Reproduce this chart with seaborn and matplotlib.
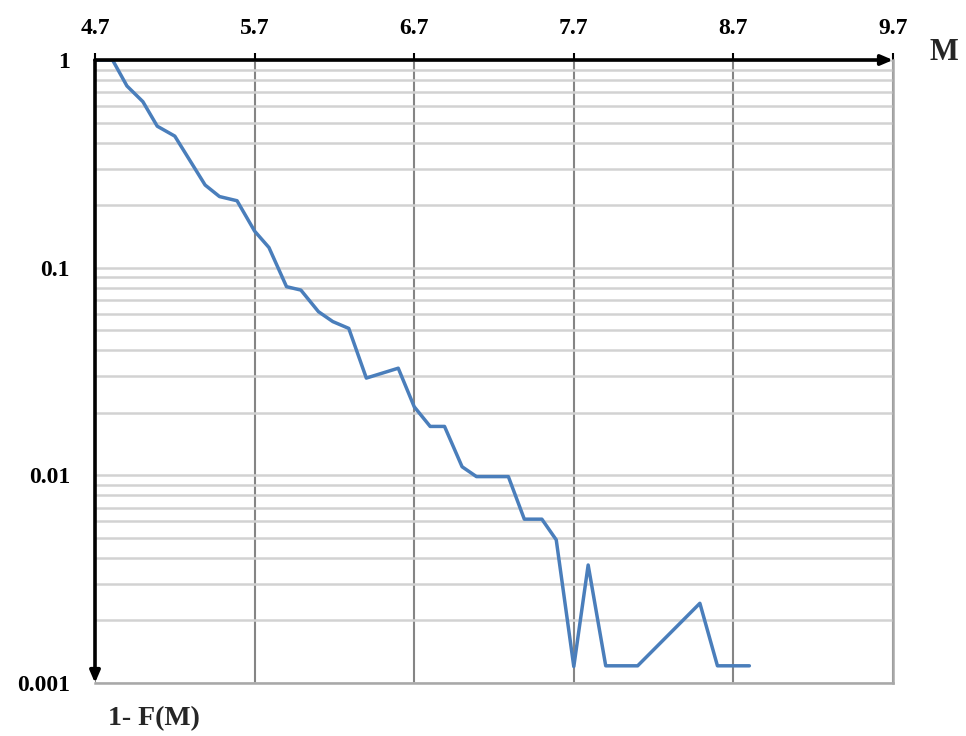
import matplotlib
matplotlib.use("Agg")
import matplotlib.pyplot as plt
from matplotlib.ticker import FixedLocator, NullFormatter, LogLocator
import numpy as np
import pandas as pd
import seaborn as sns

# Magnitude M and exceedance probability 1 - F(M)
magnitude = [4.70, 4.81, 4.90, 5.00, 5.09, 5.20, 5.39, 5.48, 5.59, 5.70, 5.79,
             5.90, 5.99, 6.10, 6.19, 6.29, 6.40, 6.60, 6.70, 6.80, 6.89, 7.00,
             7.09, 7.29, 7.39, 7.50, 7.59, 7.70, 7.79, 7.90, 8.10, 8.49, 8.60, 8.80]
exceedance = [1.0, 1.0, 0.75, 0.63, 0.48, 0.43, 0.25, 0.22, 0.21, 0.15, 0.125,
              0.081, 0.078, 0.0614, 0.055, 0.051, 0.0294, 0.0328, 0.0214, 0.0172,
              0.0172, 0.011, 0.00986, 0.00986, 0.00615, 0.00615, 0.00489, 0.0012,
              0.0037, 0.00121, 0.00121, 0.00242, 0.00121, 0.00121]

x_ticks = [4.7, 5.7, 6.7, 7.7, 8.7, 9.7]
x_tick_labels = ["4.7", "5.7", "6.7", "7.7", "8.7", "9.7"]
y_ticks = [1, 0.1, 0.01, 0.001]
y_tick_labels = ["1", "0.1", "0.01", "0.001"]

df = pd.DataFrame({"M": magnitude, "P": exceedance})

sns.set_style("white")
plt.rcParams["font.family"] = ["Liberation Serif", "DejaVu Serif"]
plt.rcParams["font.weight"] = "bold"

fig = plt.figure(figsize=(9.66, 7.36), dpi=100)
ax = fig.add_axes([95 / 966, 1 - 683 / 736, (893 - 95) / 966, (683 - 60) / 736])

ax.set_yscale("log")
ax.set_xlim(4.7, 9.7)
ax.set_ylim(0.001, 1)

# horizontal grid at every log step, vertical grid at each unit of M
ax.yaxis.set_minor_locator(LogLocator(base=10, subs=np.arange(2, 10)))
ax.yaxis.set_minor_formatter(NullFormatter())
ax.grid(which="both", axis="y", color="#d2d2d2", linewidth=1.8, zorder=0)
ax.grid(which="major", axis="x", color="#858585", linewidth=1.5, zorder=0)
ax.tick_params(axis="y", which="minor", length=0)

sns.lineplot(data=df, x="M", y="P", ax=ax, color="#4a7ebb", linewidth=2.5,
             zorder=5, legend=False)

ax.xaxis.tick_top()
ax.xaxis.set_major_locator(FixedLocator(x_ticks))
ax.set_xticklabels(x_tick_labels, fontsize=17, fontweight="bold")
ax.yaxis.set_major_locator(FixedLocator(y_ticks))
ax.set_yticklabels(y_tick_labels, fontsize=17, fontweight="bold")
ax.tick_params(axis="x", which="major", direction="out", length=5, width=1.5,
               pad=10, colors="black")
ax.tick_params(axis="y", which="major", direction="out", length=6, width=1.5,
               pad=12, colors="black")
ax.set_xlabel("")
ax.set_ylabel("")

# right / bottom frame in gray, top / left axes drawn as black arrows
for side in ("right", "bottom"):
    ax.spines[side].set_visible(True)
    ax.spines[side].set_color("#a8a8a8")
    ax.spines[side].set_linewidth(1.8)
for side in ("top", "left"):
    ax.spines[side].set_visible(False)

arrow = dict(arrowstyle="-|>,head_length=0.7,head_width=0.3", lw=2.6,
             color="black", shrinkA=0, shrinkB=0)
ax.annotate("", xy=(1.0, 1.0), xytext=(0.0, 1.0), xycoords="axes fraction",
            textcoords="axes fraction", arrowprops=arrow, zorder=10,
            annotation_clip=False)
ax.annotate("", xy=(0.0, 0.0), xytext=(0.0, 1.0), xycoords="axes fraction",
            textcoords="axes fraction", arrowprops=arrow, zorder=10,
            annotation_clip=False)

fig.text(944 / 966, 1 - 53 / 736, "M", fontsize=22, fontweight="bold",
         ha="center", va="center")
fig.text(154 / 966, 1 - 719 / 736, "1- F(M)", fontsize=20, fontweight="bold",
         ha="center", va="center")

fig.savefig("out.png", dpi=100, facecolor="white")
